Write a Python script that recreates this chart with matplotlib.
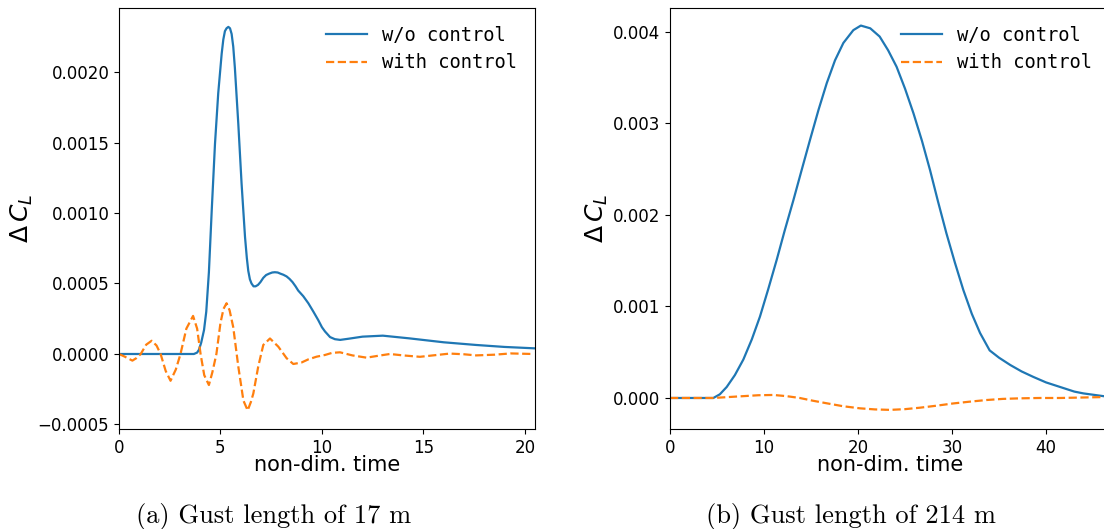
import matplotlib
matplotlib.use("Agg")
import matplotlib.pyplot as plt

# ---- Data (a): gust length 17 m ----
t_a_wo = [0, 3.69, 3.85, 3.94, 4.05, 4.19, 4.30, 4.43, 4.57, 4.73, 4.89, 5.06, 5.14, 5.22,
          5.30, 5.39, 5.47, 5.55, 5.63, 5.71, 5.88, 6.04, 6.21, 6.30, 6.37, 6.45, 6.53,
          6.63, 6.73, 6.85, 6.97, 7.11, 7.25, 7.40, 7.55, 7.68, 7.82, 7.95, 8.10, 8.26,
          8.40, 8.55, 8.70, 8.83, 9.08, 9.33, 9.58, 9.82, 10.0, 10.15, 10.4, 10.64,
          10.9, 11.3, 12.0, 13.0, 14.3, 16.0, 17.6, 19.0, 20.5]
dcl_a_wo = [0, 0, 0.00001, 0.00003, 0.00008, 0.00017, 0.00030, 0.00058, 0.00102, 0.00149,
            0.00185, 0.00213, 0.00223, 0.00229, 0.00231, 0.00232, 0.00231, 0.00227, 0.00218,
            0.00203, 0.00163, 0.00121, 0.00083, 0.00068, 0.00059, 0.00053, 0.00050,
            0.00048, 0.00048, 0.00049, 0.00051, 0.00054, 0.00056, 0.00057, 0.000578,
            0.00058, 0.000578, 0.00057, 0.000562, 0.00055, 0.000533, 0.00051, 0.00048,
            0.00045, 0.00041, 0.00036, 0.00030, 0.00024, 0.00019, 0.00016, 0.00012,
            0.000105, 0.00010, 0.000108, 0.000123, 0.00013, 0.000111, 0.000083, 0.000064,
            0.00005, 0.00004]

t_a_w = [0, 0.3, 0.66, 0.85, 1.07, 1.34, 1.61, 1.85, 2.05, 2.3, 2.54, 2.8, 3.03, 3.32, 3.65,
         3.85, 4.02, 4.2, 4.43, 4.6, 4.8, 5.0, 5.15, 5.3, 5.45, 5.63, 5.88, 6.13, 6.34, 6.5,
         6.62, 6.86, 7.11, 7.44, 7.85, 8.26, 8.59, 9.0, 9.33, 9.74, 10.15, 10.5, 10.89, 11.5,
         12.2, 12.8, 13.35, 14.0, 14.83, 15.6, 16.3, 17.0, 17.6, 18.5, 19.3, 20.4]
dcl_a_w = [0, -0.00002, -0.000047, -0.00003, 0, 0.000066, 0.000094, 0.00006, 0, -0.00012,
           -0.00019, -0.00011, 0, 0.00018, 0.00027, 0.00018, 0, -0.00015, -0.00022, -0.00013,
           0, 0.00022, 0.00032, 0.00036, 0.00031, 0.00019, -0.00009, -0.00033, -0.0004,
           -0.00034, -0.00028, -0.00009, 0.000064, 0.00011, 0.000052, -0.00003, -0.000071,
           -0.00006, -0.000038, -0.000019, -0.000007, 0.000008, 0.000012, -0.00001,
           -0.000026, -0.000012, 0.0, -0.00001, -0.00002, -0.000008, 0.000003, -0.000002,
           -0.00001, -0.000005, 0.000004, 0]

# ---- Data (b): gust length 214 m ----
t_b_wo = [0, 4.61, 5.3, 6.03, 6.9, 7.8, 8.7, 9.57, 10.45, 11.35, 12.2, 13.12, 14.0, 14.89,
          15.8, 16.67, 17.55, 18.44, 19.5, 20.3, 21.3, 22.3, 23.2, 24.1, 25.0, 25.9, 26.8,
          27.66, 28.5, 29.4, 30.3, 31.2, 32.1, 32.98, 34.0, 35.0, 36.2, 37.4, 38.65, 40.0,
          41.5, 43.0, 43.97, 46.1, 47.0]
dcl_b_wo = [0, 0, 0.00004, 0.00012, 0.00025, 0.00042, 0.00064, 0.00089, 0.00119, 0.00151,
            0.00183, 0.00216, 0.00249, 0.00282, 0.00315, 0.00344, 0.00369, 0.00388, 0.00402,
            0.00407, 0.00404, 0.00395, 0.00380, 0.00362, 0.00338, 0.00311, 0.00281, 0.00249,
            0.00215, 0.00180, 0.00148, 0.00118, 0.00092, 0.00071, 0.00052, 0.00044, 0.00036,
            0.00029, 0.00023, 0.00017, 0.00012, 0.00007, 0.00005, 0.00002, 0.000015]

t_b_w = [0, 4.6, 6.2, 7.8, 9.4, 11.0, 12.4, 13.8, 15.2, 16.67, 18.4, 20.2, 21.8, 23.4, 25.0,
         26.6, 28.3, 30.1, 31.9, 33.7, 35.4, 37.2, 39.3, 41.5, 43.8, 46.1, 47.0]
dcl_b_w = [0, 0, 0.00001, 0.00002, 0.00003, 0.000033, 0.00002, 0.0, -0.00003, -0.000058,
           -0.00009, -0.000113, -0.000125, -0.00013, -0.000122, -0.000106, -0.000085,
           -0.00006, -0.00004, -0.000022, -0.00001, -0.000004, 0.0, 0.0, 0.000005, 0.00001,
           0.00001]

xticks_a = [0, 5, 10, 15, 20]
xticks_b = [0, 10, 20, 30, 40]
captions = ["(a) Gust length of 17 m", "(b) Gust length of 214 m"]
labels = ["w/o control", "with control"]

fig = plt.figure(figsize=(11.04, 5.29), dpi=100)
W, H = 1104, 529
ax1 = fig.add_axes([119 / W, 1 - 429 / H, (535 - 119) / W, (429 - 8) / H])
# right panel extends slightly past the figure edge (cropped in the original)
ax2 = fig.add_axes([670 / W, 1 - 429 / H, (1110 - 670) / W, (429 - 8) / H])

blue, orange = "#1f77b4", "#ff7f0e"

ax1.plot(t_a_wo, dcl_a_wo, color=blue, lw=1.6, label=labels[0])
ax1.plot(t_a_w, dcl_a_w, color=orange, lw=1.6, ls="--", label=labels[1])
ax1.set_xlim(0, 20.5)
ax1.set_ylim(-0.000532, 0.002454)
ax1.set_xticks(xticks_a)

ax2.plot(t_b_wo, dcl_b_wo, color=blue, lw=1.6, label=labels[0])
ax2.plot(t_b_w, dcl_b_w, color=orange, lw=1.6, ls="--", label=labels[1])
ax2.set_xlim(0, 46.8)
ax2.set_ylim(-0.000339, 0.004262)
ax2.set_xticks(xticks_b)

for ax in (ax1, ax2):
    ax.tick_params(labelsize=12)
    ax.set_xlabel("non-dim. time", fontsize=15, labelpad=-1)
    ax.set_ylabel(r"$\Delta\,C_L$", fontsize=18, labelpad=2)
    ax.legend(frameon=False, prop={"family": "DejaVu Sans Mono", "size": 13.5},
              loc="upper right", handlelength=2.2, borderaxespad=0.55,
              labelspacing=0.45)

fig.text(274 / W, 1 - 516 / H, captions[0], family="cmr10", fontsize=19,
         ha="center", va="center")
fig.text(851 / W, 1 - 516 / H, captions[1], family="cmr10", fontsize=19,
         ha="center", va="center")

fig.savefig("out.png", dpi=100)
